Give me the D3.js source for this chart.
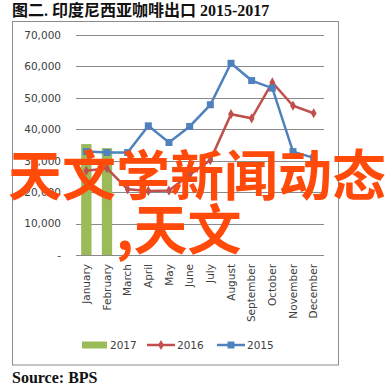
<!DOCTYPE html>
<html>
<head>
<meta charset="utf-8">
<script src="https://cdn.jsdelivr.net/npm/d3@7"></script>
<style>
    body { margin: 0; background: #fff; }
    svg { display: block; }
</style>
</head>
<body>
<svg id="chart" width="389" height="388"></svg>
<script>
const months = ["January", "February", "March", "April", "May", "June", "July",
    "August", "September", "October", "November", "December"];
const values2017 = [35300, 34000];
const values2016 = [26800, 27600, 20900, 20400, 20500, 25500, 30200, 44800, 43500, 54900, 47500, 45100];
const values2015 = [32900, 32600, 32600, 41100, 35800, 40900, 47800, 61000, 55500, 53100, 32900, 30900];
const yTicks = [0, 10000, 20000, 30000, 40000, 50000, 60000, 70000];
const legendItems = ["2017", "2016", "2015"];

const colors = { "2017": "#9bbb59", "2016": "#c0504d", "2015": "#4f81bd" };

let svg = d3.select("#chart");

svg.append("text")
    .attr("x", 12)
    .attr("y", 16)
    .attr("font-family", "'Liberation Serif', 'Noto Sans CJK SC', serif")
    .attr("font-weight", "bold")
    .attr("font-size", "16px")
    .attr("fill", "#111")
    .text("图二. 印度尼西亚咖啡出口 2015-2017");

svg.append("rect")
    .attr("x", 12.5)
    .attr("y", 21.5)
    .attr("width", 326)
    .attr("height", 343.5)
    .attr("fill", "none")
    .attr("stroke", "#8c8c8c");

let xScale = d3.scaleBand().domain(months).range([76, 324]);
let xBar = d3.scaleBand().domain(months).range([76, 324]).paddingInner(0.5).paddingOuter(0.25);
let yScale = d3.scaleLinear().domain([0, 70000]).range([255, 35]);
let cx = d => xScale(d) + xScale.bandwidth() / 2;

// gridlines
svg.append("g")
    .selectAll("line")
    .data(yTicks)
    .enter().append("line")
    .attr("x1", 76)
    .attr("x2", 324)
    .attr("y1", d => Math.round(yScale(d)) + 0.5)
    .attr("y2", d => Math.round(yScale(d)) + 0.5)
    .attr("stroke", "#8a8a8a")
    .attr("stroke-width", 1);

// y axis labels
let yAxis = svg.append("g")
    .attr("transform", "translate(76,0)")
    .call(d3.axisLeft(yScale).tickValues(yTicks)
        .tickFormat(d => d === 0 ? "-" : d3.format(",")(d))
        .tickSize(0).tickPadding(15));
yAxis.select(".domain").remove();
yAxis.selectAll("text")
    .attr("font-family", "'DejaVu Sans', sans-serif")
    .attr("font-size", "10.5px")
    .attr("fill", "#404040");

// x axis labels
let xAxis = svg.append("g")
    .attr("transform", "translate(0,255)")
    .call(d3.axisBottom(xScale).tickSize(0).tickPadding(0));
xAxis.select(".domain").remove();
xAxis.selectAll("text")
    .attr("font-family", "'DejaVu Sans', sans-serif")
    .attr("font-size", "10.5px")
    .attr("fill", "#404040")
    .attr("text-anchor", "end")
    .attr("transform", "translate(0,9) rotate(-90)")
    .attr("x", 0)
    .attr("y", 0)
    .attr("dy", "0.35em");

// bars 2017
svg.append("g")
    .selectAll("rect")
    .data(values2017)
    .enter().append("rect")
    .attr("x", (d, i) => xBar(months[i]))
    .attr("y", d => yScale(d))
    .attr("width", xBar.bandwidth())
    .attr("height", d => yScale(0) - yScale(d))
    .attr("fill", colors["2017"]);

let line = d3.line()
    .x((d, i) => cx(months[i]))
    .y(d => yScale(d));

// 2016 line with diamonds
svg.append("path")
    .datum(values2016)
    .attr("d", line)
    .attr("fill", "none")
    .attr("stroke", colors["2016"])
    .attr("stroke-width", 2.5);
svg.append("g")
    .selectAll("path")
    .data(values2016)
    .enter().append("path")
    .attr("d", d3.symbol(d3.symbolDiamond, 30))
    .attr("transform", (d, i) => "translate(" + cx(months[i]) + "," + yScale(d) + ")")
    .attr("fill", colors["2016"]);

// 2015 line with squares
svg.append("path")
    .datum(values2015)
    .attr("d", line)
    .attr("fill", "none")
    .attr("stroke", colors["2015"])
    .attr("stroke-width", 2.5);
svg.append("g")
    .selectAll("rect")
    .data(values2015)
    .enter().append("rect")
    .attr("x", (d, i) => cx(months[i]) - 3.5)
    .attr("y", d => yScale(d) - 3.5)
    .attr("width", 7)
    .attr("height", 7)
    .attr("fill", colors["2015"]);

// legend
let legendX = [82, 147, 217];
let legend = svg.append("g");
legendItems.forEach((name, i) => {
    let x0 = legendX[i];
    if (name === "2017") {
        legend.append("rect")
            .attr("x", x0).attr("y", 341.5)
            .attr("width", 25).attr("height", 7)
            .attr("fill", colors[name]);
    } else {
        legend.append("line")
            .attr("x1", x0).attr("x2", x0 + 28)
            .attr("y1", 345).attr("y2", 345)
            .attr("stroke", colors[name]).attr("stroke-width", 2.5);
        if (name === "2016") {
            legend.append("path")
                .attr("d", d3.symbol(d3.symbolDiamond, 30))
                .attr("transform", "translate(" + (x0 + 14) + ",345)")
                .attr("fill", colors[name]);
        } else {
            legend.append("rect")
                .attr("x", x0 + 10.5).attr("y", 341.5)
                .attr("width", 7).attr("height", 7)
                .attr("fill", colors[name]);
        }
    }
    legend.append("text")
        .attr("x", name === "2017" ? x0 + 28 : x0 + 30)
        .attr("y", 349)
        .attr("font-family", "'DejaVu Sans', sans-serif")
        .attr("font-size", "10.5px")
        .attr("fill", "#404040")
        .text(name);
});

svg.append("text")
    .attr("x", 12)
    .attr("y", 383)
    .attr("font-family", "'Liberation Serif', serif")
    .attr("font-weight", "bold")
    .attr("font-size", "16px")
    .attr("fill", "#111")
    .text("Source: BPS");

// watermark overlay
let wm = svg.append("g")
    .attr("font-family", "'Noto Sans CJK SC', sans-serif")
    .attr("font-weight", "bold")
    .attr("font-size", "54px")
    .attr("fill", "#ff4a0a");
wm.append("text").attr("x", 8).attr("y", 196).text("天文学新闻动态");
wm.append("text").attr("x", 116).attr("y", 250).text(",天文");
</script>
</body>
</html>
